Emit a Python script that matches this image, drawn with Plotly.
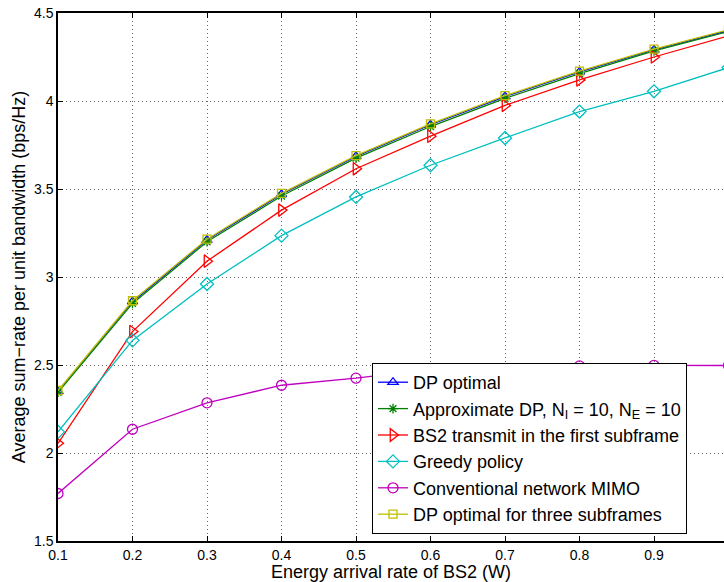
import plotly.graph_objects as go

x = [0.1, 0.2, 0.3, 0.4, 0.5, 0.6, 0.7, 0.8, 0.9, 1.0]
dp_optimal = [2.35, 2.86, 3.21, 3.47, 3.685, 3.865, 4.025, 4.165, 4.29, 4.40]
approx_dp = [2.345, 2.85, 3.20, 3.46, 3.675, 3.855, 4.015, 4.155, 4.285, 4.395]
bs2_first = [2.055, 2.69, 3.09, 3.38, 3.615, 3.80, 3.975, 4.12, 4.25, 4.37]
greedy = [2.12, 2.64, 2.96, 3.235, 3.455, 3.635, 3.79, 3.94, 4.055, 4.19]
conventional = [1.77, 2.135, 2.285, 2.385, 2.425, 2.475, 2.47, 2.495, 2.498, 2.497]
dp_three = [2.355, 2.865, 3.215, 3.475, 3.69, 3.87, 4.03, 4.17, 4.295, 4.405]

x_ticks = [0.1, 0.2, 0.3, 0.4, 0.5, 0.6, 0.7, 0.8, 0.9, 1.0]
x_tick_labels = ["0.1", "0.2", "0.3", "0.4", "0.5", "0.6", "0.7", "0.8", "0.9", "1"]
y_ticks = [1.5, 2, 2.5, 3, 3.5, 4, 4.5]
y_tick_labels = ["1.5", "2", "2.5", "3", "3.5", "4", "4.5"]

names = [
    "DP optimal",
    "Approximate DP, N<sub>I</sub> = 10, N<sub>E</sub> = 10",
    "BS2 transmit in the first subframe",
    "Greedy policy",
    "Conventional network MIMO",
    "DP optimal for three subframes",
]
series = [dp_optimal, approx_dp, bs2_first, greedy, conventional, dp_three]
colors = ["#0000ff", "#008000", "#ff0000", "#00bfbf", "#bf00bf", "#bfbf00"]
symbols = ["triangle-up-open", "asterisk-open", "triangle-right-open",
           "diamond-open", "circle-open", "square-open"]
sizes = [9, 8, 11, 10, 10, 8]

fig = go.Figure()
for i, (n, s, c, m, sz) in enumerate(zip(names, series, colors, symbols, sizes)):
    fig.add_trace(go.Scatter(
        x=x, y=s, name=n, mode="lines+markers",
        line=dict(color=c, width=1.3),
        marker=dict(symbol=m, size=sz, color=c, line=dict(color=c, width=1.3)),
        legendgroup=str(i),
    ))

font = "Liberation Sans, Arial, Helvetica, sans-serif"
grid_col = "rgba(0,0,0,0.6)"
fig.update_layout(
    width=724, height=582,
    margin=dict(l=58, r=0, t=13, b=41),
    paper_bgcolor="white", plot_bgcolor="white",
    font=dict(family=font, color="black"),
    showlegend=True,
    legend=dict(
        x=(372 - 58) / 666.0, y=(541 - 534) / 528.0, xanchor="left", yanchor="bottom",
        bgcolor="white", bordercolor="black", borderwidth=1,
        font=dict(size=18, family=font),
        tracegroupgap=0,
    ),
    xaxis=dict(
        range=[0.1, 0.1 + 666 / 745.0],
        tickvals=x_ticks, ticktext=x_tick_labels,
        ticks="inside", ticklen=5, tickcolor="black",
        showline=True, linecolor="black", linewidth=1.5, mirror="ticks",
        showgrid=True, gridcolor=grid_col, griddash="1px,3px", gridwidth=1,
        zeroline=False, automargin=False,
        tickfont=dict(size=14),
        title=dict(text="Energy arrival rate of BS2 (W)", font=dict(size=18), standoff=0),
    ),
    yaxis=dict(
        range=[1.5, 4.5],
        tickvals=y_ticks, ticktext=y_tick_labels,
        ticks="inside", ticklen=5, tickcolor="black",
        showline=True, linecolor="black", linewidth=1.5, mirror=False,
        showgrid=True, gridcolor=grid_col, griddash="1px,3px", gridwidth=1,
        zeroline=False, automargin=False,
        tickfont=dict(size=14),
        title=dict(text="Average sum\u2212rate per unit bandwidth (bps/Hz)", font=dict(size=18), standoff=4),
    ),
)

fig.write_html(
    "out.html",
    config={"displayModeBar": False},
    post_script="document.body.style.margin='0';document.body.style.overflow='hidden';",
)
